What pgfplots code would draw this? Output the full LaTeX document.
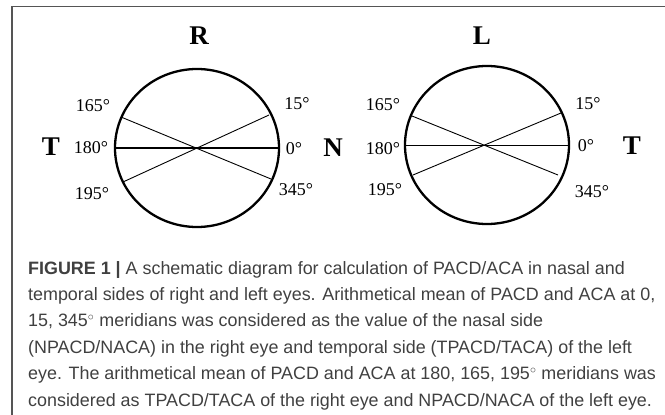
\documentclass[border=0pt]{standalone}
\usepackage{pgfplots}
\pgfplotsset{compat=1.18}
\usepackage{fontspec}
\setmainfont{Liberation Serif}
\newfontfamily\capfont{Liberation Sans}
\definecolor{framegray}{HTML}{555555}
\definecolor{captext}{HTML}{404040}
\begin{document}
\begin{tikzpicture}
\begin{axis}[
  width=665pt, height=415pt, scale only axis,
  xmin=0, xmax=665, ymin=0, ymax=415, y dir=reverse,
  hide axis, clip=false,
]
% frame
\draw[framegray, line width=1.6pt] (axis cs:12,415) -- (axis cs:12,6.5) -- (axis cs:665,6.5);
% right eye
\draw[black, line width=2.3pt] (axis cs:197,148) ellipse [x radius=82, y radius=79];
\addplot[black, line width=1.4pt] coordinates {(115,148) (279,148)};
\addplot[black, line width=0.9pt] coordinates {(121,117) (271,179)};
\addplot[black, line width=0.9pt] coordinates {(269,115) (123,182)};
% left eye
\draw[black, line width=2.3pt] (axis cs:487,145) ellipse [x radius=82, y radius=79];
\addplot[black, line width=0.9pt] coordinates {(405,145) (569,145)};
\addplot[black, line width=0.9pt] coordinates {(412,116) (558,175)};
\addplot[black, line width=0.9pt] coordinates {(561,113) (413,175)};
% labels right eye
\node[font=\fontsize{27}{30}\selectfont\bfseries] at (axis cs:199,36) {R};
\node[font=\fontsize{27}{30}\selectfont\bfseries] at (axis cs:51,147) {T};
\node[font=\fontsize{27}{30}\selectfont\bfseries] at (axis cs:333,148) {N};
\node[font=\fontsize{18}{20}\selectfont] at (axis cs:93,106) {165°};
\node[font=\fontsize{18}{20}\selectfont] at (axis cs:91,148) {180°};
\node[font=\fontsize{18}{20}\selectfont] at (axis cs:92,194) {195°};
\node[font=\fontsize{18}{20}\selectfont] at (axis cs:297,104) {15°};
\node[font=\fontsize{18}{20}\selectfont] at (axis cs:294,149) {0°};
\node[font=\fontsize{18}{20}\selectfont] at (axis cs:296,190) {345°};
% labels left eye
\node[font=\fontsize{27}{30}\selectfont\bfseries] at (axis cs:482,36) {L};
\node[font=\fontsize{27}{30}\selectfont\bfseries] at (axis cs:632,146) {T};
\node[font=\fontsize{18}{20}\selectfont] at (axis cs:383,105) {165°};
\node[font=\fontsize{18}{20}\selectfont] at (axis cs:383,149) {180°};
\node[font=\fontsize{18}{20}\selectfont] at (axis cs:385,190) {195°};
\node[font=\fontsize{18}{20}\selectfont] at (axis cs:588,104) {15°};
\node[font=\fontsize{18}{20}\selectfont] at (axis cs:586,146) {0°};
\node[font=\fontsize{18}{20}\selectfont] at (axis cs:592,192) {345°};
% caption
\node[anchor=north west, inner sep=0pt, align=left, text=captext,
      font=\capfont\fontsize{17.9}{26.4}\selectfont] at (axis cs:28,261)
{\textbf{FIGURE 1 |} A schematic diagram for calculation of PACD/ACA in nasal and\\
temporal sides of right and left eyes. Arithmetical mean of PACD and ACA at 0,\\
15, 345$^\circ$ meridians was considered as the value of the nasal side\\
(NPACD/NACA) in the right eye and temporal side (TPACD/TACA) of the left\\
eye. The arithmetical mean of PACD and ACA at 180, 165, 195$^\circ$ meridians was\\
considered as TPACD/TACA of the right eye and NPACD/NACA of the left eye.};
\end{axis}
\pgfresetboundingbox
\useasboundingbox (0,0) rectangle (665pt,415pt);
\end{tikzpicture}
\end{document}
